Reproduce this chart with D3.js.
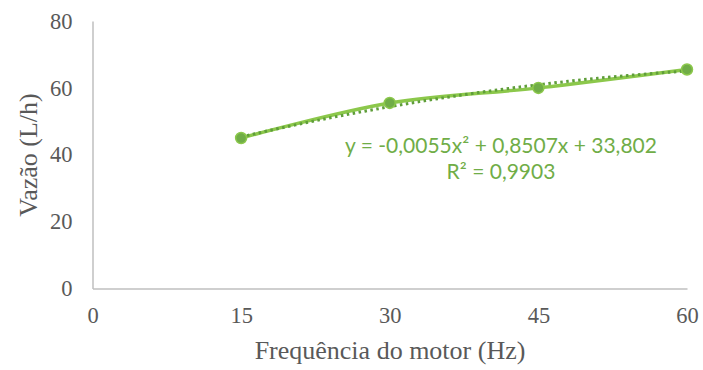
<!DOCTYPE html>
<html>
<head>
<meta charset="utf-8">
<script src="https://cdn.jsdelivr.net/npm/d3@7"></script>
<style>
  body { margin: 0; background: #fff; }
  svg text { fill: #595959; }
  .serif { font-family: "Liberation Serif", "Times New Roman", Times, serif; }
</style>
</head>
<body>
<svg width="703" height="370"></svg>
<script>

let freq = [15, 30, 45, 60]
let vazao = [45, 55.5, 60, 65.5]
let xTicks = [0, 15, 30, 45, 60]
let yTicks = [0, 20, 40, 60, 80]
// coeficientes da linha de tendência (a, b, c) -> a*x^2 + b*x + c
let coefs = [-0.0055, 0.8507, 33.802]
let eqTexto = ['y = -0,0055x² + 0,8507x + 33,802', 'R² = 0,9903']

let svg = d3.select('svg')

let x = d3.scaleLinear().domain([0, 60]).range([92.5, 687])
let y = d3.scaleLinear().domain([0, 80]).range([288.5, 21])

/* Eixos */

let eixoX = svg.append('g')
  .attr('transform', `translate(0,${y(0)})`)
  .call(d3.axisBottom(x).tickValues(xTicks).tickSize(0).tickPadding(19))

let eixoY = svg.append('g')
  .attr('transform', `translate(${x(0)},0)`)
  .call(d3.axisLeft(y).tickValues(yTicks).tickSize(0).tickPadding(20))

;[eixoX, eixoY].forEach(e => {
  e.attr('font-family', null).attr('font-size', null)
  e.select('.domain').attr('stroke', '#bfbfbf').attr('stroke-width', 1.5)
  e.selectAll('text')
    .attr('class', 'serif')
    .style('font-size', '22.5px')
    .style('fill', '#595959')
})

svg.append('text')
  .attr('class', 'serif')
  .attr('x', 390).attr('y', 359)
  .attr('text-anchor', 'middle')
  .style('font-size', '26px')
  .text('Frequência do motor (Hz)')

svg.append('text')
  .attr('class', 'serif')
  .attr('transform', 'translate(37,155) rotate(-90)')
  .attr('text-anchor', 'middle')
  .style('font-size', '26px')
  .text('Vazão (L/h)')

/* Série */

let pontos = freq.map((f, i) => [f, vazao[i]])

svg.append('path')
  .datum(pontos)
  .attr('fill', 'none')
  .attr('stroke', '#8cc84b')
  .attr('stroke-width', 3.5)
  .attr('d', d3.line().x(d => x(d[0])).y(d => y(d[1])).curve(d3.curveCatmullRom))

// tendência polinomial
let tend = d3.range(freq[0], freq[freq.length - 1] + 0.01, 0.5)
  .map(f => [f, coefs[0] * f * f + coefs[1] * f + coefs[2]])

svg.append('path')
  .datum(tend)
  .attr('fill', 'none')
  .attr('stroke', '#5f9e3a')
  .attr('stroke-width', 3)
  .attr('stroke-dasharray', '2.5 3.5')
  .attr('d', d3.line().x(d => x(d[0])).y(d => y(d[1])))

svg.append('g').selectAll('circle')
  .data(pontos)
  .enter().append('circle')
  .attr('cx', d => x(d[0]))
  .attr('cy', d => y(d[1]))
  .attr('r', 5.5)
  .attr('fill', '#70ad47')
  .attr('stroke', '#8cc84b')
  .attr('stroke-width', 1.5)

/* Equação */

svg.append('g').selectAll('text.eq')
  .data(eqTexto)
  .enter().append('text')
  .attr('class', 'eq')
  .attr('x', 501)
  .attr('y', (d, i) => 153 + i * 26)
  .attr('text-anchor', 'middle')
  .attr('font-family', 'Lato')
  .attr('font-size', 21)
  .style('fill', '#70ad47')
  .text(d => d)

</script>
</body>
</html>
